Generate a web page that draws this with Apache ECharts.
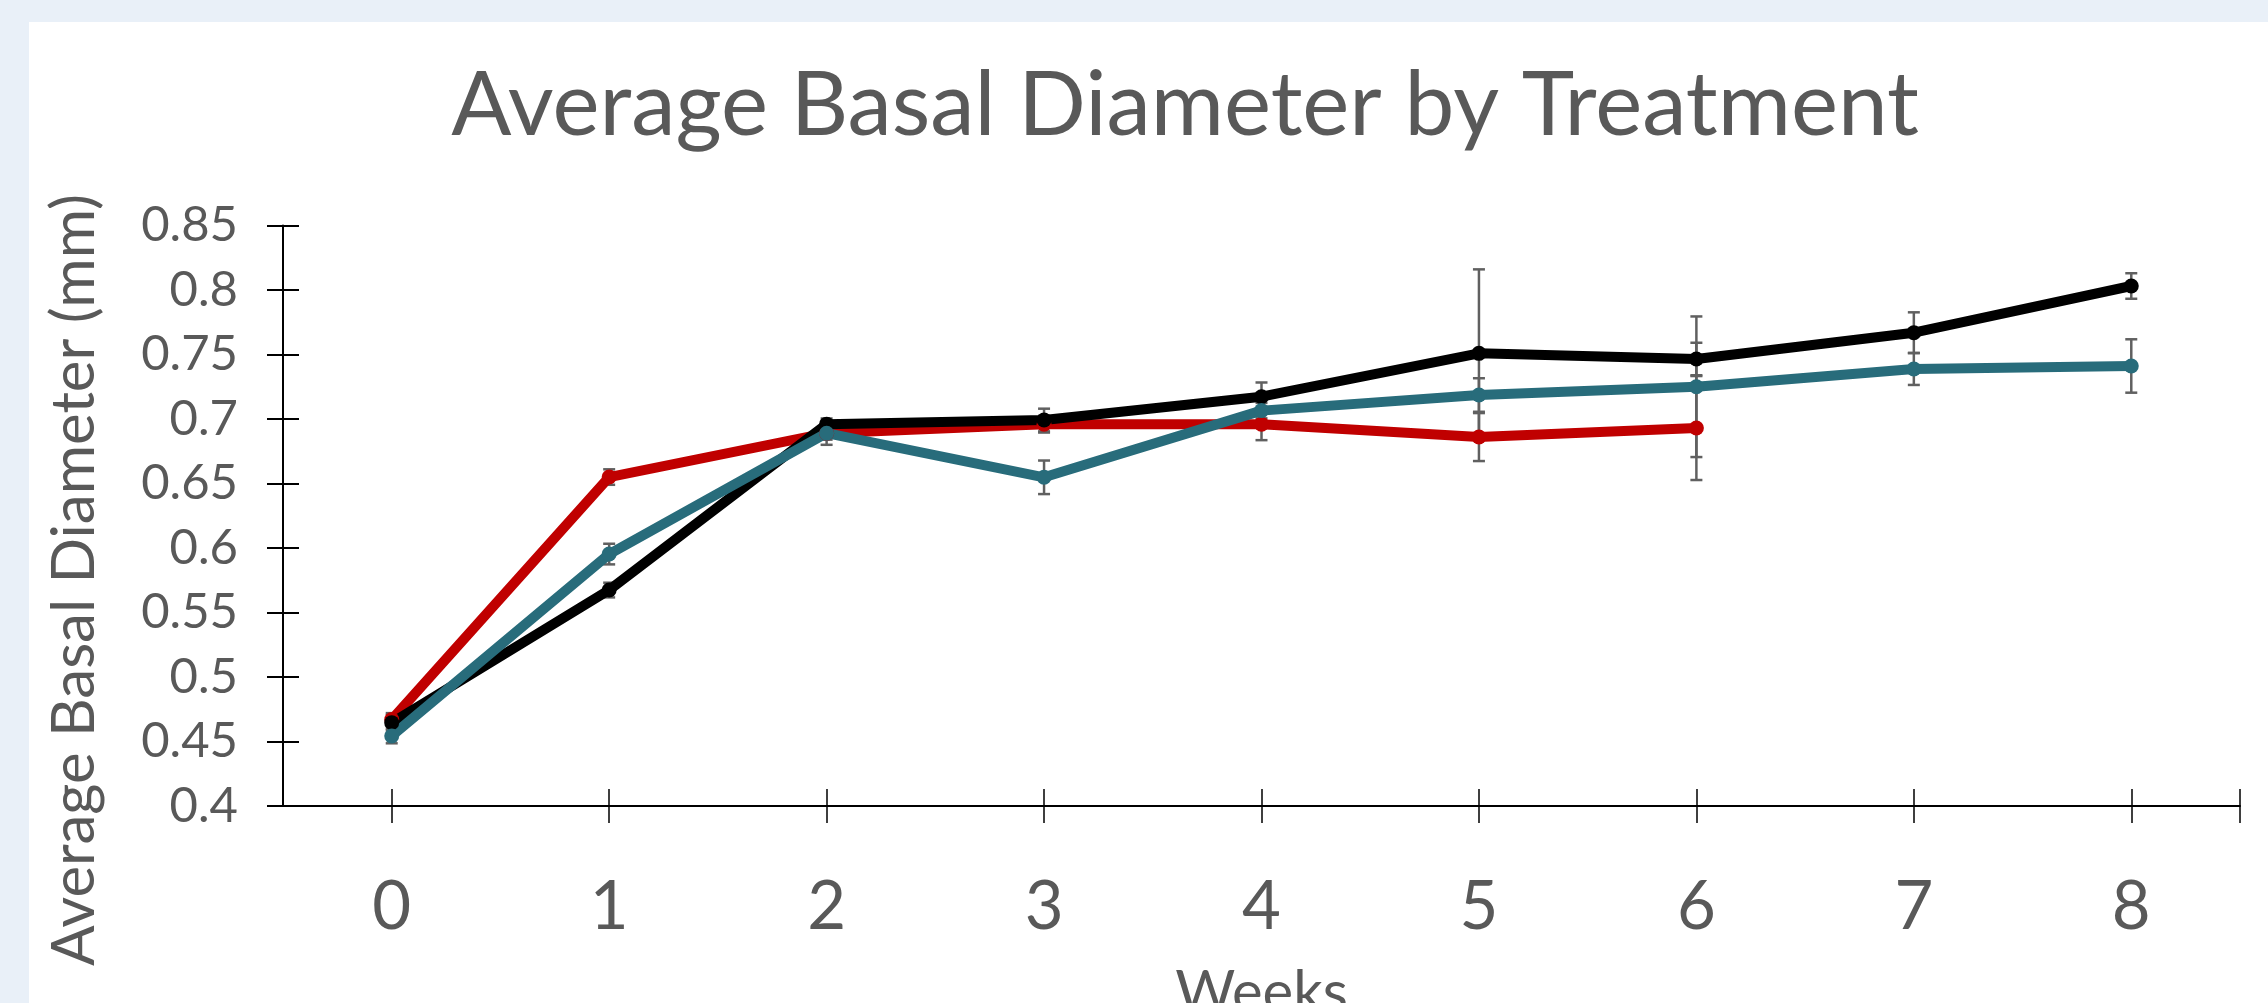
<!DOCTYPE html>
<html>
<head>
<meta charset="utf-8">
<title>Average Basal Diameter by Treatment</title>
<script src="https://cdn.jsdelivr.net/npm/echarts@6/dist/echarts.min.js"></script>
<style>
    html, body { margin: 0; padding: 0; width: 2268px; height: 1003px; overflow: hidden; background: #e9f0f8; }
    #chart { position: absolute; left: 29px; top: 22px; width: 2239px; height: 981px; background: #ffffff; }
</style>
</head>
<body>
<div id="chart"></div>
<script>
// data
const weeks = [0, 1, 2, 3, 4, 5, 6, 7, 8];
const yTicks = [0.4, 0.45, 0.5, 0.55, 0.6, 0.65, 0.7, 0.75, 0.8, 0.85];

const redMean = [0.467, 0.655, 0.689, 0.696, 0.696, 0.686, 0.693];
const redErr = [0.005, 0.006, 0.005, 0.0065, 0.0124, 0.0186, 0.0403];

const blackMean = [0.4646, 0.5674, 0.696, 0.6992, 0.7173, 0.7509, 0.7465, 0.7669, 0.8031];
const blackErr = [0.006, 0.0057, 0.0044, 0.0088, 0.011, 0.0651, 0.0126, 0.0158, 0.0099];

const tealMean = [0.4543, 0.5953, 0.689, 0.6548, 0.7065, 0.7186, 0.725, 0.7388, 0.7411];
const tealErr = [0.0057, 0.008, 0.009, 0.013, 0.006, 0.013, 0.0545, 0.0124, 0.0207];

const FONT = 'Lato';
const TEXT = '#595959';

function pairs(mean) {
    return mean.map((v, i) => [weeks[i], v]);
}

function bars(mean, err) {
    return mean.map((v, i) => [weeks[i], v - err[i], v + err[i]]);
}

function renderErrorBar(params, api) {
    const lo = api.coord([api.value(0), api.value(1)]);
    const hi = api.coord([api.value(0), api.value(2)]);
    const cap = 6;
    const style = { stroke: '#606060', lineWidth: 2.5 };
    return {
        type: 'group',
        children: [
            { type: 'line', shape: { x1: lo[0], y1: lo[1], x2: hi[0], y2: hi[1] }, style: style },
            { type: 'line', shape: { x1: lo[0] - cap, y1: lo[1], x2: lo[0] + cap, y2: lo[1] }, style: style },
            { type: 'line', shape: { x1: hi[0] - cap, y1: hi[1], x2: hi[0] + cap, y2: hi[1] }, style: style }
        ]
    };
}

function lineSeries(name, mean, color) {
    return {
        name: name,
        type: 'line',
        data: pairs(mean),
        symbol: 'circle',
        symbolSize: 15,
        showSymbol: true,
        lineStyle: { color: color, width: 10 },
        itemStyle: { color: color },
        z: 3,
        animation: false
    };
}

function errorSeries(mean, err) {
    return {
        type: 'custom',
        renderItem: renderErrorBar,
        data: bars(mean, err),
        z: 2,
        silent: true,
        animation: false
    };
}

const chart = echarts.init(document.getElementById('chart'));

const xBase = {
    type: 'value',
    min: -0.5,
    max: 8.5,
    position: 'bottom',
    splitLine: { show: false }
};

const yBase = {
    type: 'value',
    min: yTicks[0],
    max: yTicks[yTicks.length - 1],
    interval: 0.05,
    position: 'left',
    splitLine: { show: false }
};

const option = {
    backgroundColor: 'transparent',
    title: {
        text: 'Average Basal Diameter by Treatment',
        left: 1151,
        textAlign: 'center',
        top: 35,
        textStyle: { fontFamily: FONT, fontSize: 89, fontWeight: 'normal', color: TEXT }
    },
    grid: { left: 254, right: 28, top: 203.5, bottom: 197, containLabel: false, outerBoundsMode: 'none' },
    xAxis: [
        Object.assign({}, xBase, {
            name: 'Weeks',
            nameLocation: 'middle',
            nameGap: 158,
            nameTextStyle: { fontFamily: FONT, fontSize: 58, color: TEXT },
            axisLine: { show: true, onZero: false, lineStyle: { color: '#000', width: 2 } },
            axisTick: { show: true, inside: false, length: 17, customValues: weeks.concat([8.5]), lineStyle: { color: '#000', width: 1.5 } },
            axisLabel: { show: true, customValues: weeks, margin: 68, fontFamily: FONT, fontSize: 67, color: TEXT }
        }),
        Object.assign({}, xBase, {
            axisLine: { show: false, onZero: false },
            axisTick: { show: true, inside: true, length: 17, customValues: weeks.concat([8.5]), lineStyle: { color: '#000', width: 1.5 } },
            axisLabel: { show: false }
        })
    ],
    yAxis: [
        Object.assign({}, yBase, {
            axisLine: { show: true, onZero: false, lineStyle: { color: '#000', width: 2 } },
            axisTick: { show: true, inside: false, length: 16, lineStyle: { color: '#000', width: 2 } },
            axisLabel: {
                show: true,
                margin: 45,
                fontFamily: FONT,
                fontSize: 49,
                color: TEXT,
                formatter: function (v) { return String(parseFloat(v.toFixed(2))); }
            }
        }),
        Object.assign({}, yBase, {
            axisLine: { show: false, onZero: false },
            axisTick: { show: true, inside: true, length: 16, lineStyle: { color: '#000', width: 2 } },
            axisLabel: { show: false }
        })
    ],
    graphic: [
        {
            type: 'text',
            x: 46,
            y: 558,
            rotation: Math.PI / 2,
            style: {
                text: 'Average Basal Diameter (mm)',
                fontFamily: FONT,
                fontSize: 60,
                fill: TEXT,
                align: 'center',
                verticalAlign: 'middle'
            }
        }
    ],
    series: [
        errorSeries(redMean, redErr),
        errorSeries(blackMean, blackErr),
        errorSeries(tealMean, tealErr),
        lineSeries('Series 1', redMean, '#c00000'),
        lineSeries('Series 2', blackMean, '#000000'),
        lineSeries('Series 3', tealMean, '#286c7b')
    ]
};

chart.setOption(option);
</script>
</body>
</html>
